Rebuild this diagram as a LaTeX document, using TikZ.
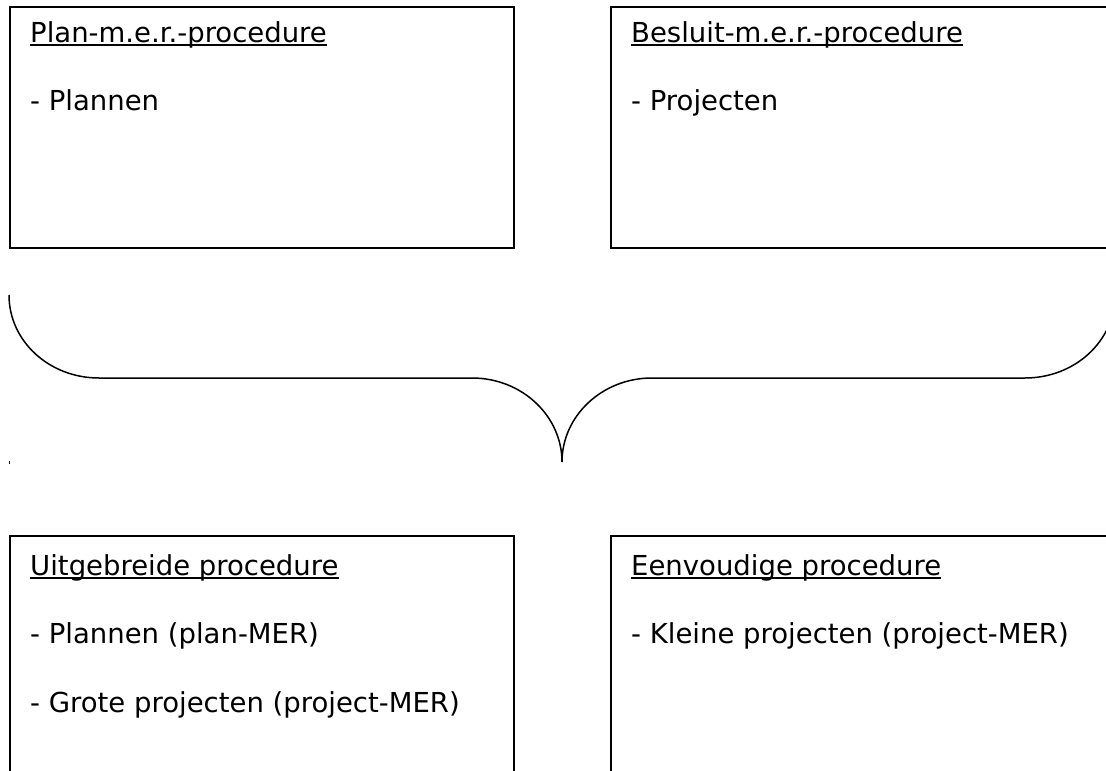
\documentclass[tikz,border=0pt]{standalone}
\usepackage{fontspec}
\setmainfont{DejaVu Sans}
\begin{document}
\begin{tikzpicture}[x=1pt,y=-1pt,
  pbox/.style={draw=black,line width=2.2pt,anchor=north west,inner sep=0pt},
  ptxt/.style={anchor=base west,inner sep=0pt,font=\fontsize{27.5}{32}\selectfont},
  uline/.style={line width=1.4pt}]
\useasboundingbox (0,0) rectangle (1106,771);
% boxes
\node[pbox,minimum width=504pt,minimum height=241pt] (tl) at (9,6) {};
\node[pbox,minimum width=540pt,minimum height=241pt] (tr) at (610,6) {};
\node[pbox,minimum width=504pt,minimum height=300pt] (bl) at (9,535) {};
\node[pbox,minimum width=540pt,minimum height=300pt] (br) at (610,535) {};
% texts
\node[ptxt] (t1) at (30,42) {Plan-m.e.r.-procedure};
\node[ptxt] (t1a) at (30,110) {- Plannen};
\node[ptxt] (t2) at (631,42) {Besluit-m.e.r.-procedure};
\node[ptxt] (t2a) at (631,110) {- Projecten};
\node[ptxt] (t3) at (30,575) {Uitgebreide procedure};
\node[ptxt] (t3a) at (30,643) {- Plannen (plan-MER)};
\node[ptxt] (t3b) at (30,712) {- Grote projecten (project-MER)};
\node[ptxt] (t4) at (631,575) {Eenvoudige procedure};
\node[ptxt] (t4a) at (631,643) {- Kleine projecten (project-MER)};
% underlines
\foreach \n in {t1,t2,t3,t4}{
  \draw[uline] ([yshift=-3pt]\n.base west) -- ([yshift=-3pt]\n.base east);
}
% brace
\draw[line width=1.5pt]
  (9,295) .. controls (9,341) and (49,378) .. (99,378)
  -- (472,378) .. controls (522,378) and (562,416) .. (562,462)
  .. controls (562,416) and (602,378) .. (652,378)
  -- (1025,378) .. controls (1075,378) and (1115,341) .. (1115,295);
% stray tick
\draw[line width=1pt] (9,461) -- (9,464);
\end{tikzpicture}
\end{document}
